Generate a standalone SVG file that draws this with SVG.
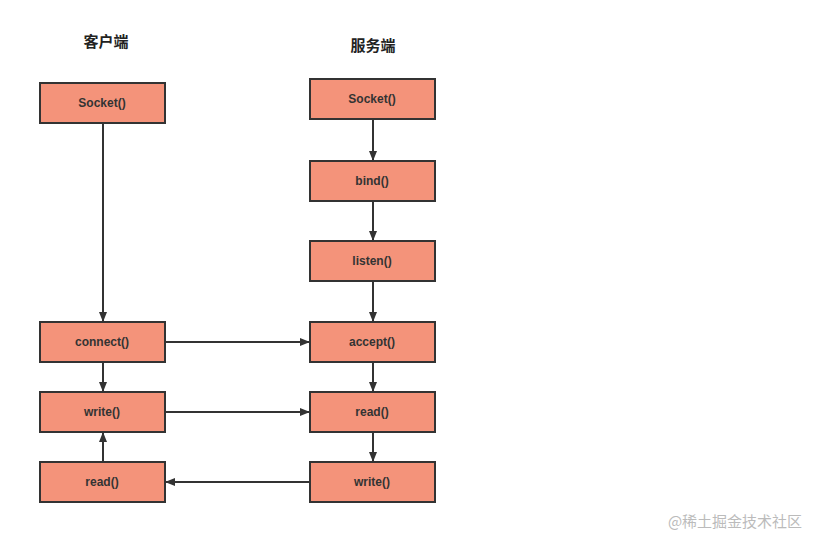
<svg xmlns="http://www.w3.org/2000/svg" width="830" height="550" viewBox="0 0 830 550">
<style>
.n rect{fill:#F4937A;stroke:#333;stroke-width:2}
.n text{font-family:"Liberation Sans",Arial,sans-serif;font-size:12px;font-weight:bold;fill:#333;text-anchor:middle}
.t{font-family:"Noto Sans CJK SC",sans-serif;font-size:15px;font-weight:bold;fill:#222;text-anchor:middle}
#edges line{stroke:#333;stroke-width:2;marker-end:url(#a)}
</style>
<defs><marker id="a" markerWidth="10" markerHeight="10" refX="9" refY="5" orient="auto" markerUnits="userSpaceOnUse"><path d="M0,1 L10,5 L0,9 Z" fill="#333"/></marker></defs>
<rect width="830" height="550" fill="#fff"/>
<text class="t" x="106" y="47">客户端</text>
<text class="t" x="373" y="51">服务端</text>
<g id="c_socket" class="n"><rect x="40" y="83" width="125" height="40"/><text x="102" y="107">Socket()</text></g>
<g id="c_connect" class="n"><rect x="40" y="322" width="125" height="40"/><text x="102" y="346">connect()</text></g>
<g id="c_write" class="n"><rect x="40" y="392" width="125" height="40"/><text x="102" y="416">write()</text></g>
<g id="c_read" class="n"><rect x="40" y="462" width="125" height="40"/><text x="102" y="486">read()</text></g>
<g id="s_socket" class="n"><rect x="310" y="79" width="125" height="40"/><text x="372" y="103">Socket()</text></g>
<g id="s_bind" class="n"><rect x="310" y="161" width="125" height="40"/><text x="372" y="185">bind()</text></g>
<g id="s_listen" class="n"><rect x="310" y="241" width="125" height="40"/><text x="372" y="265">listen()</text></g>
<g id="s_accept" class="n"><rect x="310" y="322" width="125" height="40"/><text x="372" y="346">accept()</text></g>
<g id="s_read" class="n"><rect x="310" y="392" width="125" height="40"/><text x="372" y="416">read()</text></g>
<g id="s_write" class="n"><rect x="310" y="462" width="125" height="40"/><text x="372" y="486">write()</text></g>
<g id="edges">
<line x1="103" y1="123" x2="103" y2="321"/>
<line x1="103" y1="362" x2="103" y2="391"/>
<line x1="103" y1="462" x2="103" y2="433"/>
<line x1="165" y1="342" x2="309" y2="342"/>
<line x1="165" y1="412" x2="309" y2="412"/>
<line x1="310" y1="482" x2="166" y2="482"/>
<line x1="373" y1="119" x2="373" y2="160"/>
<line x1="373" y1="201" x2="373" y2="240"/>
<line x1="373" y1="281" x2="373" y2="321"/>
<line x1="373" y1="362" x2="373" y2="391"/>
<line x1="373" y1="432" x2="373" y2="461"/>
</g>
<text x="735" y="527" font-family="'Noto Sans CJK SC',sans-serif" font-size="15" fill="#bbb" text-anchor="middle">@稀土掘金技术社区</text>
</svg>
